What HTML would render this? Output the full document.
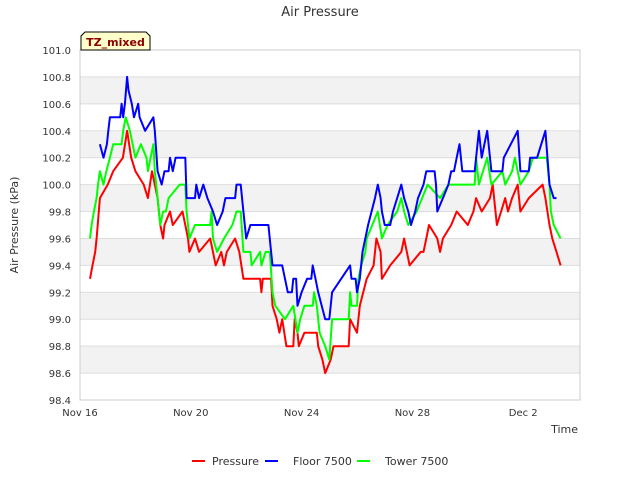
<!DOCTYPE html>
<html><head><meta charset="utf-8"><style>
body{margin:0;background:#fff;font-family:"Liberation Sans","DejaVu Sans",sans-serif;}
svg text{font-family:"DejaVu Sans","Liberation Sans",sans-serif;}
</style></head><body>
<svg id="chart" width="640" height="480">
<text x="320" y="16" text-anchor="middle" font-size="13" fill="#333">Air Pressure</text>
<g id="bands"></g><g id="yticks"></g><g id="xticks"></g><g id="series"></g>
<rect x="80" y="50" width="500" height="350" fill="none" stroke="#ccc"/>
<text x="18" y="225" transform="rotate(-90 18 225)" text-anchor="middle" font-size="11" fill="#333">Air Pressure (kPa)</text>
<text x="578" y="433" text-anchor="end" font-size="11" fill="#333">Time</text>
<g><path d="M81 50 V36 L85 32 H146 L150 36 V50 Z" fill="#ffffcc" stroke="#000"/>
<text x="115.5" y="46" text-anchor="middle" font-size="11" font-weight="bold" fill="#8b0000">TZ_mixed</text></g>
<g>
<g><line x1="192" y1="461" x2="205" y2="461" stroke="#f00" stroke-width="2"/><text x="212" y="465" font-size="11" fill="#333">Pressure</text></g>
<g><line x1="265" y1="461" x2="278" y2="461" stroke="#00f" stroke-width="2"/><text x="293" y="465" font-size="11" fill="#333">Floor 7500</text></g>
<g><line x1="357" y1="461" x2="370" y2="461" stroke="#0f0" stroke-width="2"/><text x="385" y="465" font-size="11" fill="#333">Tower 7500</text></g>
</g>
</svg>
<script>
const yTicks=[98.4,98.6,98.8,99.0,99.2,99.4,99.6,99.8,100.0,100.2,100.4,100.6,100.8,101.0];
const xTickLabels=["Nov 16","Nov 20","Nov 24","Nov 28","Dec 2"];
const xTickDays=[0,4,8,12,16];
const pDays=[0.36,0.45,0.55,0.6,0.72,1.0,1.2,1.55,1.7,1.85,2.0,2.3,2.45,2.6,2.8,2.9,3.0,3.05,3.25,3.35,3.7,3.8,3.9,3.95,4.15,4.3,4.7,4.9,5.1,5.2,5.3,5.6,5.75,5.9,6.5,6.55,6.6,6.9,6.95,7.1,7.2,7.3,7.45,7.7,7.75,7.85,7.9,8.1,8.55,8.6,8.75,8.85,9.05,9.15,9.7,9.75,10.0,10.1,10.35,10.6,10.7,10.85,10.9,11.2,11.6,11.7,11.9,12.3,12.4,12.5,12.6,12.9,13.0,13.1,13.4,13.6,14.0,14.2,14.3,14.5,14.8,14.9,15.05,15.2,15.35,15.45,15.6,15.8,15.9,16.2,16.7,16.8,16.95,17.05,17.2,17.35];
const pVals=[99.3,99.4,99.5,99.6,99.9,100.0,100.1,100.2,100.4,100.2,100.1,100.0,99.9,100.1,99.9,99.7,99.6,99.7,99.8,99.7,99.8,99.7,99.6,99.5,99.6,99.5,99.6,99.4,99.5,99.4,99.5,99.6,99.5,99.3,99.3,99.2,99.3,99.3,99.1,99.0,98.9,99.0,98.8,98.8,99.0,98.9,98.8,98.9,98.9,98.8,98.7,98.6,98.7,98.8,98.8,99.0,98.9,99.1,99.3,99.4,99.6,99.5,99.3,99.4,99.5,99.6,99.4,99.5,99.5,99.6,99.7,99.6,99.5,99.6,99.7,99.8,99.7,99.8,99.9,99.8,99.9,100.0,99.7,99.8,99.9,99.8,99.9,100.0,99.8,99.9,100.0,99.9,99.7,99.6,99.5,99.4];
const fDays=[0.72,0.85,0.97,1.02,1.08,1.45,1.5,1.56,1.62,1.7,1.75,1.87,1.95,2.1,2.15,2.35,2.65,2.7,2.8,2.95,3.05,3.2,3.25,3.35,3.45,3.55,3.8,3.85,4.15,4.2,4.3,4.45,4.6,4.8,4.95,5.15,5.25,5.6,5.65,5.8,5.9,6.0,6.15,6.8,6.9,6.95,7.3,7.4,7.5,7.65,7.7,7.8,7.85,8.0,8.2,8.35,8.4,8.5,8.6,8.85,9.0,9.1,9.75,9.8,9.95,10.0,10.1,10.2,10.3,10.4,10.65,10.75,10.85,10.9,11.0,11.2,11.3,11.45,11.6,11.7,11.85,11.95,12.1,12.2,12.4,12.5,12.8,12.85,12.9,13.1,13.3,13.4,13.5,13.6,13.7,13.8,14.25,14.3,14.4,14.5,14.6,14.7,14.85,15.25,15.3,15.8,15.9,16.2,16.25,16.5,16.8,16.95,17.1,17.2];
const fVals=[100.3,100.2,100.3,100.4,100.5,100.5,100.6,100.5,100.6,100.8,100.7,100.6,100.5,100.6,100.5,100.4,100.5,100.4,100.1,100.0,100.1,100.1,100.2,100.1,100.2,100.2,100.2,99.9,99.9,100.0,99.9,100.0,99.9,99.8,99.7,99.8,99.9,99.9,100.0,100.0,99.8,99.6,99.7,99.7,99.5,99.4,99.4,99.3,99.2,99.2,99.3,99.3,99.1,99.2,99.3,99.3,99.4,99.3,99.2,99.0,99.0,99.2,99.4,99.3,99.3,99.2,99.3,99.5,99.6,99.7,99.9,100.0,99.9,99.8,99.7,99.7,99.8,99.9,100.0,99.9,99.8,99.7,99.8,99.9,100.0,100.1,100.1,100.0,99.8,99.9,100.0,100.1,100.1,100.2,100.3,100.1,100.1,100.2,100.4,100.2,100.3,100.4,100.1,100.1,100.2,100.4,100.1,100.1,100.2,100.2,100.4,100.0,99.9,99.9];
const tDays=[0.36,0.42,0.5,0.6,0.65,0.72,0.85,0.95,1.08,1.2,1.5,1.56,1.65,1.8,1.9,2.0,2.2,2.4,2.45,2.55,2.65,2.7,2.8,2.9,3.0,3.1,3.2,3.6,3.8,3.85,3.95,4.15,4.7,4.75,4.8,4.95,5.2,5.5,5.65,5.8,5.9,6.15,6.2,6.5,6.55,6.7,6.85,6.95,7.05,7.4,7.7,7.85,7.95,8.1,8.4,8.45,8.55,8.65,8.85,9.0,9.1,9.7,9.75,9.8,10.0,10.05,10.15,10.3,10.35,10.75,10.9,11.1,11.45,11.6,11.7,11.85,12.15,12.35,12.55,13.0,13.3,14.25,14.3,14.4,14.7,14.85,15.25,15.35,15.6,15.7,15.9,16.2,16.35,16.85,16.95,17.0,17.1,17.35];
const tVals=[99.6,99.7,99.8,99.9,100.0,100.1,100.0,100.1,100.2,100.3,100.3,100.4,100.5,100.4,100.3,100.2,100.3,100.2,100.1,100.2,100.3,100.1,99.9,99.7,99.8,99.8,99.9,100.0,100.0,99.8,99.6,99.7,99.7,99.8,99.6,99.5,99.6,99.7,99.8,99.8,99.5,99.5,99.4,99.5,99.4,99.5,99.5,99.2,99.1,99.0,99.1,98.9,99.0,99.1,99.1,99.2,99.1,98.9,98.8,98.7,99.0,99.0,99.2,99.1,99.1,99.3,99.4,99.5,99.6,99.8,99.6,99.7,99.8,99.9,99.8,99.7,99.8,99.9,100.0,99.9,100.0,100.0,100.2,100.0,100.2,100.0,100.1,100.0,100.1,100.2,100.0,100.1,100.2,100.2,100.0,99.8,99.7,99.6];
const NS='http://www.w3.org/2000/svg';
const X0=80,X1=580,Y0=400,Y1=50,DMAX=18.05,VMIN=98.4,VMAX=101.0;
const xs=d=>X0+d/DMAX*(X1-X0);
const ys=v=>Y0-(v-VMIN)/(VMAX-VMIN)*(Y0-Y1);
function mk(tag,attrs,parent){const e=document.createElementNS(NS,tag);for(const k in attrs)e.setAttribute(k,attrs[k]);parent.appendChild(e);return e;}
const bands=document.getElementById('bands');
for(let i=0;i<yTicks.length-1;i++){
 if(i%2===1){const r=mk('rect',{x:X0,y:ys(yTicks[i+1]),width:X1-X0,height:ys(yTicks[i])-ys(yTicks[i+1]),fill:'#f2f2f2'},bands);
 
 }
}
const yt=document.getElementById('yticks');
yTicks.forEach(v=>{
 const l=mk('line',{x1:X0,x2:X1,y1:ys(v),y2:ys(v),stroke:'#ddd'},yt);
 
 
 const t=mk('text',{x:X0-9,y:ys(v)+4,'text-anchor':'end','font-size':'10',fill:'#333'},yt);
 t.textContent=v.toFixed(1);
 
 
});
const xt=document.getElementById('xticks');
xTickLabels.forEach((s,i)=>{
 const t=mk('text',{x:xs(xTickDays[i]),y:416,'text-anchor':'middle','font-size':'10',fill:'#333'},xt);
 t.textContent=s;
 
 
});
const sg=document.getElementById('series');
function line(days,vals,color,name){
 const pts=days.map((d,i)=>xs(d).toFixed(1)+','+ys(vals[i]).toFixed(1)).join(' ');
 const p=mk('polyline',{points:pts,fill:'none',stroke:color,'stroke-width':'2','stroke-linejoin':'round'},sg);
 
 
}
line(pDays,pVals,'#ff0000','pressure-line');
line(tDays,tVals,'#00ff00','tower-7500-line');
line(fDays,fVals,'#0000ff','floor-7500-line');
</script>
</body></html>
